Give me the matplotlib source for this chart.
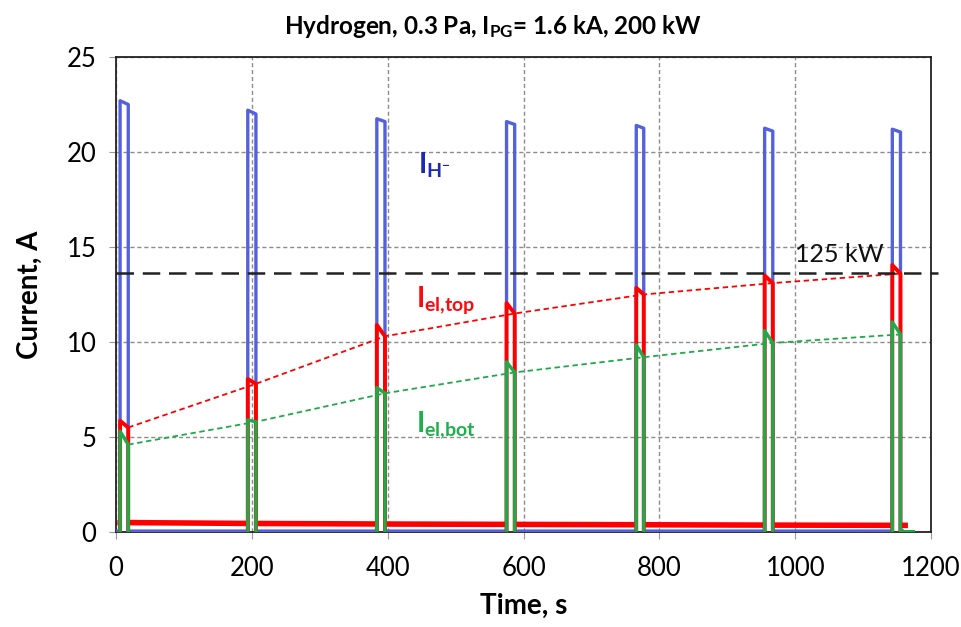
import numpy as np
import matplotlib
matplotlib.use("Agg")
import matplotlib.pyplot as plt

plt.rcParams['font.family'] = ['Lato', 'DejaVu Sans']
plt.rcParams['mathtext.fontset'] = 'custom'
plt.rcParams['mathtext.rm'] = 'Lato'
plt.rcParams['mathtext.it'] = 'Lato:italic'
plt.rcParams['mathtext.bf'] = 'Lato:bold'

# pulse timing (s)
pulse_start = [6, 194, 384, 575, 766, 955, 1143]
pulse_end = [18, 206, 396, 587, 777, 967, 1155]

# H- current (A): value at pulse start and end
ih_start = [22.7, 22.2, 21.75, 21.6, 21.4, 21.25, 21.2]
ih_end = [22.5, 22.0, 21.6, 21.45, 21.25, 21.1, 21.05]
ih_base = 0.05

# electron currents (A): spike at pulse start, value at pulse end
iel_top_peak = [5.85, 8.05, 10.9, 12.05, 12.85, 13.5, 14.05]
iel_top_end = [5.5, 7.8, 10.3, 11.5, 12.5, 13.1, 13.6]
iel_bot_peak = [5.3, 5.9, 7.6, 8.95, 9.85, 10.6, 11.05]
iel_bot_end = [4.6, 5.8, 7.3, 8.4, 9.2, 9.95, 10.4]

# red baseline between pulses
top_base_t = [0, 200, 400, 600, 800, 1000, 1168]
top_base = [0.5, 0.45, 0.42, 0.4, 0.38, 0.36, 0.35]

limit_125kw = 13.65

blue = "#5461DB"
red = "#FF0000"
green = "#1FAA4A"


def pulses(t0s, t1s, tops, ends, base):
    xs, ys = [], []
    for a, b, p, e in zip(t0s, t1s, tops, ends):
        xs += [a, a, b, b, np.nan]
        ys += [base, p, e, base, np.nan]
    return np.array(xs), np.array(ys)


fig = plt.figure(figsize=(9.62, 6.27), dpi=100)
ax = fig.add_axes([0.1206, 0.1515, 0.8472, 0.7576])

# blue: continuous baseline + pulses
bx, by = [0], [ih_base]
for a, b, p, e in zip(pulse_start, pulse_end, ih_start, ih_end):
    bx += [a, a, b, b]
    by += [ih_base, p, e, ih_base]
bx += [1158]
by += [ih_base]
ax.plot(bx, by, color=blue, lw=2.4, zorder=3, solid_joinstyle='round')

# red baseline segments between pulses
edges = [0] + pulse_end
stops = pulse_start + [1168]
for a, b in zip(edges, stops):
    xa, xb = a + 2, b - 2
    ax.plot([xa, xb], np.interp([xa, xb], top_base_t, top_base),
            color=red, lw=4.0, zorder=4, solid_capstyle='butt')

rx, ry = pulses(pulse_start, pulse_end, iel_top_peak, iel_top_end, 0.0)
ax.plot(rx, ry, color=red, lw=2.8, zorder=4)

gx, gy = pulses(pulse_start, pulse_end, iel_bot_peak, iel_bot_end, 0.0)
ax.plot(gx, gy, color=green, lw=2.4, zorder=5)
ax.plot([pulse_end[-1], 1175], [0.03, 0.03], color=green, lw=1.5, zorder=5)

# trend lines
ax.plot(pulse_end, iel_top_end, color=red, lw=1.3, ls=(0, (3, 2)), zorder=4)
ax.plot(pulse_end, iel_bot_end, color=green, lw=1.3, ls=(0, (3, 2)), zorder=4)

# 125 kW limit
ax.plot([0, 1210], [limit_125kw, limit_125kw], color="#222222", lw=1.8,
        ls=(0, (7, 3.5)), zorder=6, clip_on=False)
ax.text(1000, 14.2, "125 kW", fontsize=18, color="#111111", zorder=7)

ax.text(445, 18.85, r"$\mathbf{I_{H^{-}}}$", fontsize=20, color="#1C2AB0")
ax.text(442, 11.85, r"$\mathbf{I_{el{,}top}}$", fontsize=20, color="#FF0A0A")
ax.text(442, 5.26, r"$\mathbf{I_{el{,}bot}}$", fontsize=20, color="#1FB04A")

ax.set_xlim(0, 1200)
ax.set_ylim(0, 25)
ax.set_xticks([0, 200, 400, 600, 800, 1000, 1200])
ax.set_yticks([0, 5, 10, 15, 20, 25])
ax.grid(True, color="#8c8c8c", ls=(0, (3, 2)), lw=1.0, zorder=0)
ax.set_axisbelow(True)
ax.tick_params(axis='both', direction='out', length=5, color="#999999",
               labelsize=18.5)
ax.tick_params(axis='x', pad=12)
ax.tick_params(axis='y', pad=9)
for s in ax.spines.values():
    s.set_color("#222222")
    s.set_linewidth(1.3)

ax.set_xlabel("Time, s", fontsize=20, fontweight='bold', labelpad=9)
ax.set_ylabel("Current, A", fontsize=20, fontweight='bold', labelpad=17)
fig.text(0.5125, 0.957, r"Hydrogen, 0.3 Pa, I$_{\mathbf{PG}}$= 1.6 kA, 200 kW",
         fontsize=17.5, fontweight='bold', ha='center', va='center')

fig.savefig("out.png", dpi=100)
